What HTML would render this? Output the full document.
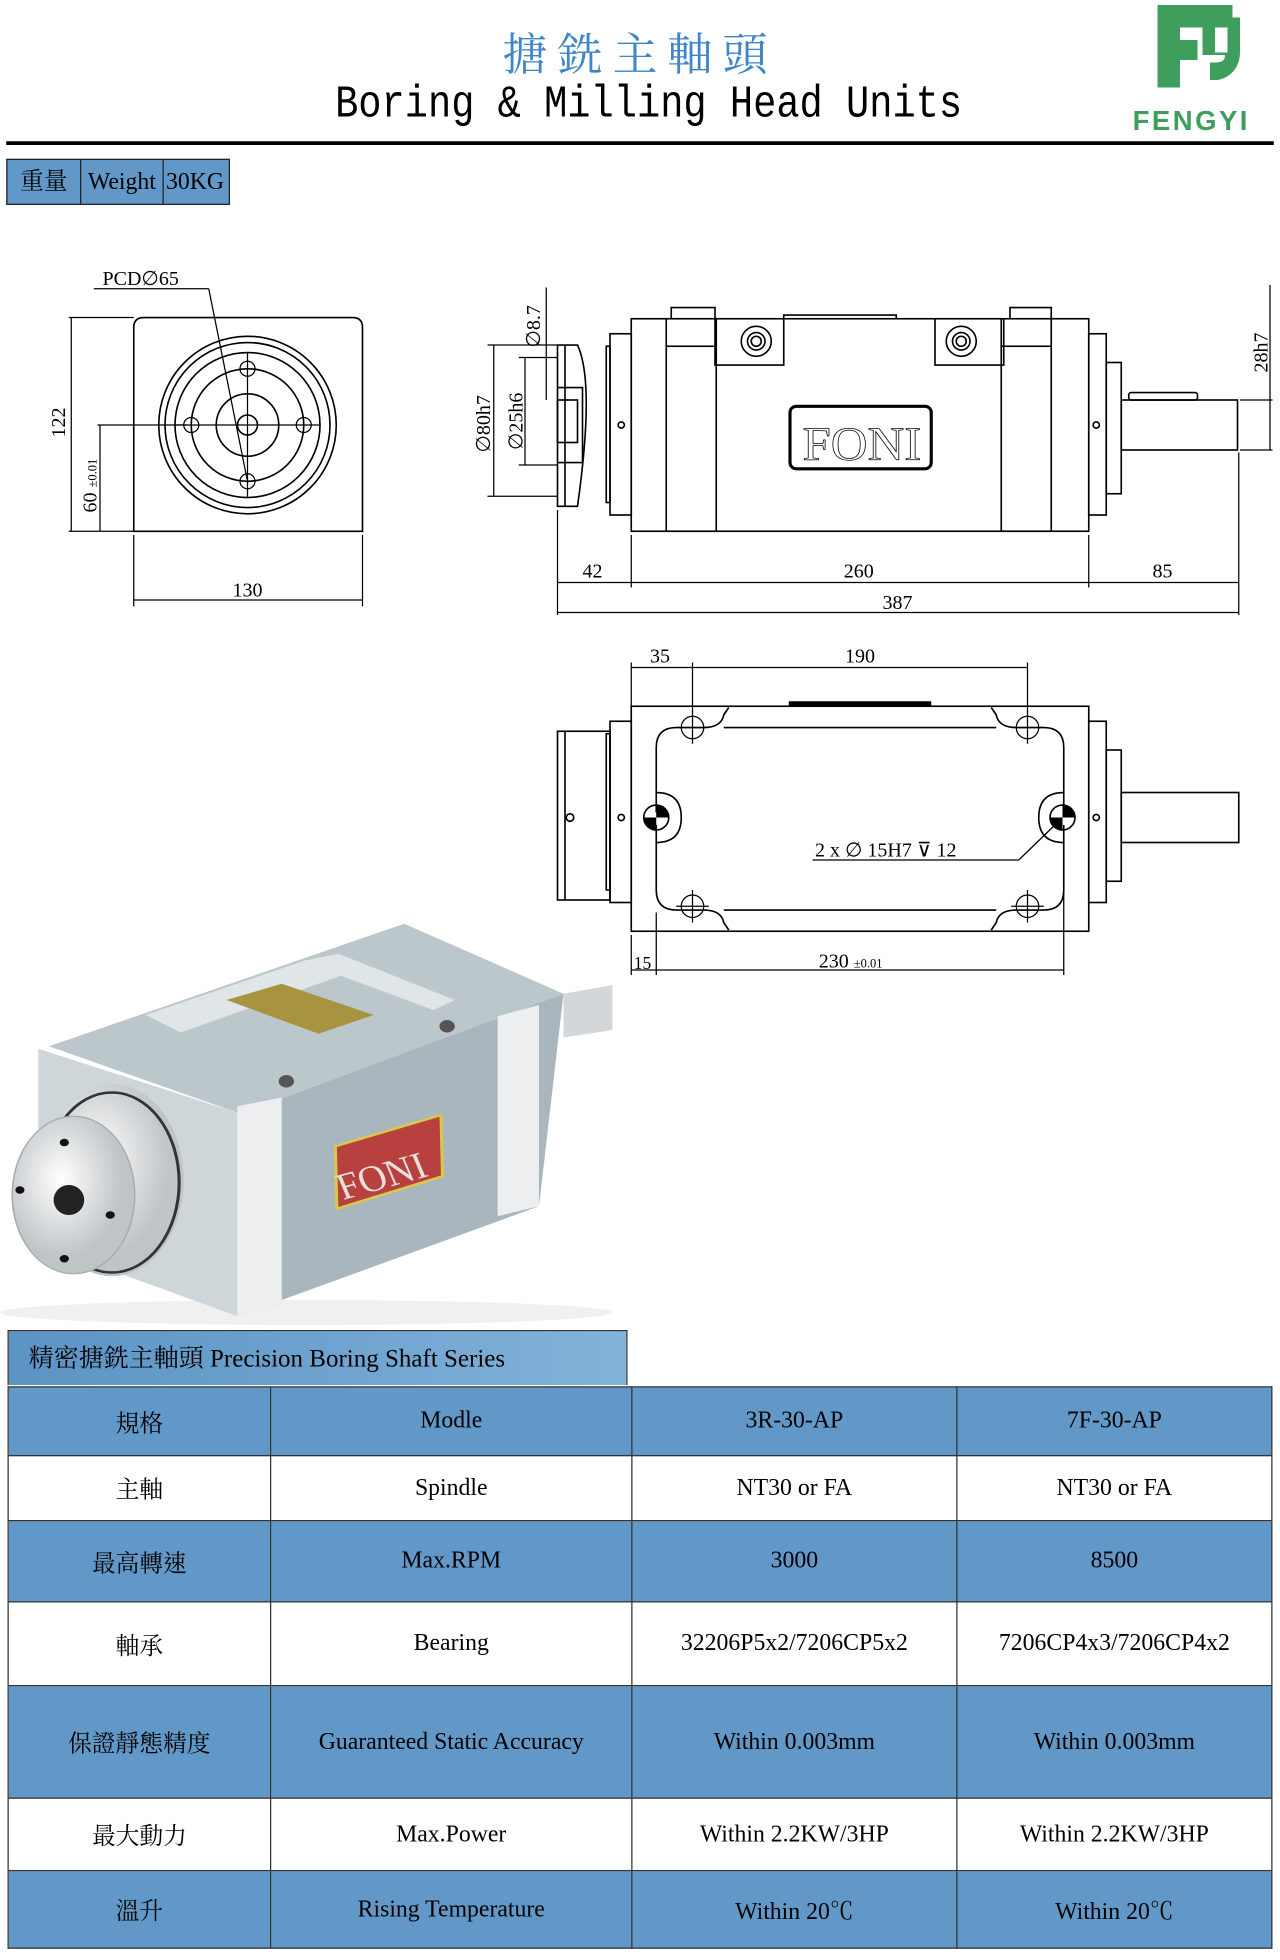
<!DOCTYPE html>
<html><head><meta charset="utf-8"><style>
html,body{margin:0;padding:0;background:#fff;}
#w{width:1024px;height:1568px;transform:scale(1.25);transform-origin:0 0;position:relative;overflow:hidden;font-family:"Liberation Serif","Noto Serif CJK SC",serif;}
.a{position:absolute;}
table{border-collapse:collapse;position:absolute;left:6px;top:1109px;width:1012px;font-family:"Liberation Sans Narrow","Liberation Serif","Noto Serif CJK TC",serif;font-size:19px;}
td{border:1px solid #333;text-align:center;padding:0;}
tr.b td{background:#6298c8;}
</style></head><body><div id="w">
<div class="a" style="left:0;width:1024px;top:20px;text-align:center;font-size:36px;color:#3f86c6;letter-spacing:8px;font-family:'Noto Serif CJK TC','Noto Serif CJK SC',serif;line-height:44px;">搪銑主軸頭</div>
<div class="a" style="left:0;width:1040px;top:62px;text-align:center;font-size:36px;font-family:'Liberation Mono',monospace;line-height:44px;transform:scaleX(0.86);transform-origin:512px 0;">Boring &amp; Milling Head Units</div>
<svg class="a" style="left:890px;top:0" width="130" height="110">
<path d="M36 4h60v18H54v10h14v16H54v22H36z" fill="#3f9e5e"/>
<path d="M72 22h10v20h10V14h10v28c0 10-6 20-18 22h-6v-14h4c6 0 8-2 8-6h-18z" fill="#3f9e5e"/>
<text x="63" y="104" text-anchor="middle" font-family="Liberation Sans" font-weight="bold" font-size="22" fill="#3f9e5e" letter-spacing="2">FENGYI</text>
</svg>
<div class="a" style="left:5px;top:113px;width:1014px;height:3px;background:#000"></div>
<div class="a" style="left:5px;top:127px;width:177px;height:35px;border:1px solid #222;background:#6298c8;font-size:19px;line-height:35px;font-family:'Liberation Serif','Noto Serif CJK TC',serif;">
<span style="display:inline-block;width:58px;border-right:1px solid #222;text-align:center">重量</span><span style="display:inline-block;width:65px;border-right:1px solid #222;text-align:center">Weight</span><span style="display:inline-block;width:50px;text-align:center">30KG</span></div>

<svg class="a" style="left:0;top:0" width="1024" height="1060" font-family="Liberation Serif" font-size="16" fill="none" stroke="#000" stroke-width="1.3">
<path d="M107 425V262q0-8 8-8h167q8 0 8 8v163z"/>
<circle cx="198" cy="340" r="71"/><circle cx="198" cy="340" r="66"/><circle cx="198" cy="340" r="58"/>
<circle cx="198" cy="340" r="45"/><circle cx="198" cy="340" r="25"/><circle cx="198" cy="340" r="8"/>
<g stroke-width="1"><circle cx="198" cy="295" r="6"/><circle cx="198" cy="385" r="6"/><circle cx="153" cy="340" r="6"/><circle cx="243" cy="340" r="6"/>
<line x1="140" y1="340" x2="256" y2="340"/><line x1="198" y1="282" x2="198" y2="398"/>
<line x1="75" y1="231" x2="167" y2="231"/><line x1="167" y1="231" x2="198" y2="385"/>
<line x1="55" y1="254" x2="107" y2="254"/><line x1="55" y1="425" x2="107" y2="425"/><line x1="57" y1="254" x2="57" y2="425"/>
<line x1="78" y1="340" x2="150" y2="340"/><line x1="80" y1="340" x2="80" y2="425"/>
<line x1="107" y1="428" x2="107" y2="485"/><line x1="290" y1="428" x2="290" y2="485"/><line x1="107" y1="480" x2="290" y2="480"/></g>
<g fill="#000" stroke="none">
<text x="82" y="228">PCD∅65</text>
<text transform="translate(52,350) rotate(-90)">122</text>
<text transform="translate(77,410) rotate(-90)">60 <tspan font-size="10">±0.01</tspan></text>
<text x="186" y="477">130</text></g>
<rect x="505" y="255" width="366" height="170"/>
<path d="M537 255v-9h35v9M808 255v-9h33v9M627 255v-3h90v3" />
<rect x="533" y="277" width="40" height="148"/><rect x="801" y="277" width="40" height="148"/>
<path d="M573 255v22M801 255v22M533 277V255M841 277V255"/>
<path d="M572 255v37h55v-37M748 255v37h55v-37"/>
<circle cx="605" cy="273" r="12"/><circle cx="605" cy="273" r="7"/><circle cx="605" cy="273" r="4"/>
<circle cx="769" cy="273" r="12"/><circle cx="769" cy="273" r="7"/><circle cx="769" cy="273" r="4"/>
<rect x="632" y="325" width="113" height="50" rx="5" stroke-width="2.5"/>
<rect x="488" y="267" width="17" height="145"/><rect x="485" y="277" width="3" height="125"/>
<path d="M446 276h16q14 30 0 129h-16z"/><line x1="452" y1="276" x2="452" y2="405"/>
<path d="M446 310h20v60h-20"/><rect x="446" y="320" width="16" height="34"/>
<rect x="871" y="267" width="14" height="145"/><rect x="885" y="290" width="12" height="105"/>
<rect x="897" y="320" width="93" height="40"/><rect x="903" y="314" width="55" height="6" rx="2"/>
<circle cx="497" cy="340" r="2.5"/><circle cx="877" cy="340" r="2.5"/>
<g stroke-width="1">
<line x1="446" y1="408" x2="446" y2="492"/><line x1="505" y1="428" x2="505" y2="470"/><line x1="871" y1="428" x2="871" y2="470"/><line x1="991" y1="362" x2="991" y2="492"/>
<line x1="446" y1="466" x2="991" y2="466"/><line x1="446" y1="490" x2="991" y2="490"/>
<line x1="992" y1="320" x2="1018" y2="320"/><line x1="992" y1="360" x2="1018" y2="360"/><line x1="1016" y1="228" x2="1016" y2="360"/>
<line x1="390" y1="276" x2="446" y2="276"/><line x1="390" y1="397" x2="446" y2="397"/><line x1="395" y1="276" x2="395" y2="397"/>
<line x1="415" y1="286" x2="446" y2="286"/><line x1="415" y1="372" x2="446" y2="372"/><line x1="420" y1="286" x2="420" y2="372"/>
<line x1="437" y1="230" x2="437" y2="320"/></g>
<g fill="#000" stroke="none">
<text x="466" y="462">42</text><text x="675" y="462">260</text><text x="922" y="462">85</text><text x="706" y="487">387</text>
<text transform="translate(1014,298) rotate(-90)">28h7</text>
<text transform="translate(392,362) rotate(-90)">∅80h7</text>
<text transform="translate(418,360) rotate(-90)">∅25h6</text>
<text transform="translate(432,278) rotate(-90)">∅8.7</text>
<text x="642" y="368" font-size="38" stroke="#000" stroke-width="0.6" fill="#fff" textLength="95" lengthAdjust="spacingAndGlyphs">FONI</text></g>
<rect x="505" y="565" width="366" height="180"/>
<path d="M525 650V598q0-16 16-16h22q14 0 16-10l4-6M851 650V598q0-16-16-16h-22q-14 0-16-10l-4-6"/>
<path d="M525 660v52q0 16 16 16h22q14 0 16 10l4 6M851 660v52q0 16-16 16h-22q-14 0-16 10l-4 6"/>
<path d="M579 582h218M579 728h218"/>
<path d="M525 634q20 0 20 20t-20 20M851 634q-20 0-20 20t20 20"/>
<line x1="631" y1="563" x2="745" y2="563" stroke-width="4"/>
<rect x="488" y="577" width="17" height="145"/><rect x="485" y="587" width="3" height="125"/>
<rect x="446" y="585" width="42" height="135"/><line x1="452" y1="585" x2="452" y2="720"/>
<rect x="871" y="577" width="14" height="145"/><rect x="885" y="600" width="12" height="105"/>
<rect x="897" y="634" width="94" height="40"/>
<circle cx="456" cy="654" r="3"/><circle cx="497" cy="654" r="2.5"/><circle cx="877" cy="654" r="2.5"/>
<g stroke-width="1">
<circle cx="554" cy="582" r="9"/><line x1="541" y1="582" x2="567" y2="582"/><line x1="554" y1="569" x2="554" y2="595"/>
<circle cx="822" cy="582" r="9"/><line x1="809" y1="582" x2="835" y2="582"/><line x1="822" y1="569" x2="822" y2="595"/>
<circle cx="554" cy="725" r="9"/><line x1="541" y1="725" x2="567" y2="725"/><line x1="554" y1="712" x2="554" y2="738"/>
<circle cx="822" cy="725" r="9"/><line x1="809" y1="725" x2="835" y2="725"/><line x1="822" y1="712" x2="822" y2="738"/>
<line x1="505" y1="530" x2="505" y2="565"/><line x1="554" y1="530" x2="554" y2="570"/><line x1="822" y1="530" x2="822" y2="570"/>
<line x1="505" y1="534" x2="822" y2="534"/>
<line x1="505" y1="748" x2="505" y2="780"/><line x1="525" y1="730" x2="525" y2="780"/><line x1="851" y1="670" x2="851" y2="780"/>
<line x1="505" y1="776" x2="851" y2="776"/>
<line x1="650" y1="688" x2="815" y2="688"/><line x1="815" y1="688" x2="846" y2="658"/></g>
<circle cx="525" cy="654" r="10"/><circle cx="850" cy="654" r="10"/>
<path d="M525 644a10 10 0 0 1 10 10h-10zM525 654h-10a10 10 0 0 0 10 10z M850 644a10 10 0 0 1 10 10h-10zM850 654h-10a10 10 0 0 0 10 10z" fill="#000" stroke="none"/>
<g fill="#000" stroke="none">
<text x="520" y="530">35</text><text x="676" y="530">190</text>
<text x="507" y="775" font-size="14">15</text><text x="655" y="774">230 <tspan font-size="10">±0.01</tspan></text>
<text x="652" y="685">2 x ∅ 15H7 ⊽ 12</text></g>
</svg>
<svg class="a" style="left:0;top:720px" width="520" height="345">
<defs><radialGradient id="g1" cx="0.4" cy="0.4"><stop offset="0" stop-color="#fff"/><stop offset="1" stop-color="#bfc4c6"/></radialGradient></defs>
<g transform="scale(1.225,1)">
<ellipse cx="200" cy="330" rx="200" ry="10" fill="#f0f0f0"/>
<polygon points="368,75 400,68 400,104 368,110" fill="#d3d7d9"/>
<polygon points="32,117 264,19 368,75 157,171" fill="#bcc7cc"/>
<polygon points="95,92 200,48 224,60 118,106" fill="#e0e5e7"/>
<polygon points="197,49 221,43 297,80 283,88" fill="#e0e5e7"/>
<polygon points="148,80 184,67 244,92 208,107" fill="#a89440"/>
<polygon points="157,171 368,75 352,245 155,333" fill="#a9b6bd"/>
<polygon points="25,119 157,171 155,333 25,275" fill="#cfd6d9"/>
<polygon points="155,165 184,158 184,326 155,333" fill="#eceeef"/>
<polygon points="325,93 352,84 352,245 325,253" fill="#eceeef"/>
<polygon points="219,197 288,172 289,221 220,247" fill="#b8413f" stroke="#d9c94a" stroke-width="2"/>
<text transform="translate(224,240) rotate(-19)" font-family="Liberation Serif" font-size="30" fill="#e8e0dc" textLength="60" lengthAdjust="spacingAndGlyphs">FONI</text>
<ellipse cx="73" cy="224" rx="47" ry="77" fill="url(#g1)"/>
<ellipse cx="73" cy="226" rx="44" ry="72" fill="none" stroke="#333" stroke-width="2"/>
<ellipse cx="48" cy="236" rx="40" ry="63" fill="url(#g1)" stroke="#aaa"/>
<ellipse cx="45" cy="240" rx="10" ry="12" fill="#222"/>
<circle cx="42" cy="194" r="3" fill="#111"/><circle cx="42" cy="287" r="3" fill="#111"/><circle cx="13" cy="232" r="3" fill="#111"/><circle cx="72" cy="252" r="3" fill="#111"/>
<circle cx="187" cy="145" r="5" fill="#555"/><circle cx="292" cy="101" r="5" fill="#555"/>
</g>
</svg>
<div class="a" style="left:6px;top:1064px;width:496px;height:44px;border:1px solid #333;border-bottom:none;background:linear-gradient(90deg,#5b93c4,#82b3da);font-family:'Liberation Sans Narrow','Liberation Serif','Noto Serif CJK TC',serif;font-size:20px;line-height:44px;padding-left:16px;box-sizing:border-box;">精密搪銑主軸頭 Precision Boring Shaft Series</div>
<table>
<tr class="b" style="height:55px"><td style="width:209px">規格</td><td style="width:288px">Modle</td><td style="width:259px">3R-30-AP</td><td>7F-30-AP</td></tr>
<tr style="height:52px"><td>主軸</td><td>Spindle</td><td>NT30 or FA</td><td>NT30 or FA</td></tr>
<tr class="b" style="height:65px"><td>最高轉速</td><td>Max.RPM</td><td>3000</td><td>8500</td></tr>
<tr style="height:67px"><td>軸承</td><td>Bearing</td><td>32206P5x2/7206CP5x2</td><td>7206CP4x3/7206CP4x2</td></tr>
<tr class="b" style="height:90px"><td>保證靜態精度</td><td>Guaranteed Static Accuracy</td><td>Within 0.003mm</td><td>Within 0.003mm</td></tr>
<tr style="height:58px"><td>最大動力</td><td>Max.Power</td><td>Within 2.2KW/3HP</td><td>Within 2.2KW/3HP</td></tr>
<tr class="b" style="height:62px"><td>溫升</td><td>Rising Temperature</td><td>Within 20℃</td><td>Within 20℃</td></tr>
</table>
</div></body></html>
